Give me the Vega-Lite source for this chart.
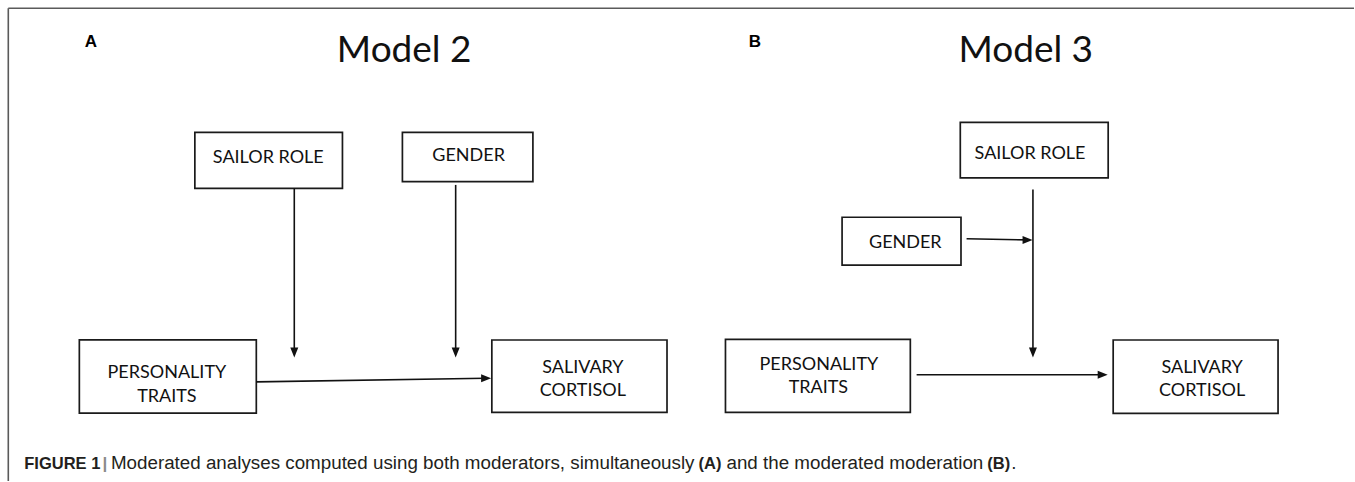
{
  "$schema": "https://vega.github.io/schema/vega-lite/v6.json",
  "width": 1355,
  "height": 482,
  "autosize": {"type": "fit", "contains": "padding"},
  "padding": 0,
  "background": "white",
  "config": {"view": {"stroke": null}},
  "datasets": {
    "frame": [
      {"x": 8.3, "y": 8.3, "x2": 1355, "y2": 8.3},
      {"x": 8.3, "y": 8.3, "x2": 8.3, "y2": 482}
    ],
    "boxes": [
      {"name": "A sailor", "x": 195, "x2": 342.7, "y": 132.7, "y2": 188.7},
      {"name": "A gender", "x": 402.7, "x2": 533.3, "y": 132.7, "y2": 182},
      {"name": "A personality", "x": 79.4, "x2": 256.5, "y": 340.5, "y2": 414},
      {"name": "A salivary", "x": 492.2, "x2": 667.5, "y": 340.7, "y2": 413.3},
      {"name": "B sailor", "x": 961, "x2": 1109, "y": 122.7, "y2": 178.3},
      {"name": "B gender", "x": 842.7, "x2": 961.7, "y": 217.7, "y2": 265.7},
      {"name": "B personality", "x": 726, "x2": 911, "y": 340, "y2": 413.3},
      {"name": "B salivary", "x": 1114, "x2": 1279, "y": 340.7, "y2": 414.3}
    ],
    "lines": [
      {"name": "A sailor", "x": 294.5, "y": 188.7, "x2": 294.5, "y2": 353},
      {"name": "A gender", "x": 456, "y": 185.3, "x2": 456, "y2": 353},
      {"name": "A main", "x": 256.5, "y": 382.7, "x2": 486, "y2": 379.1},
      {"name": "B vertical", "x": 1033.7, "y": 190, "x2": 1033.7, "y2": 353},
      {"name": "B gender", "x": 967.3, "y": 239.3, "x2": 1028, "y2": 240.4},
      {"name": "B main", "x": 917.3, "y": 375.5, "x2": 1103, "y2": 375.5}
    ],
    "heads": [
      {"dir": "down", "x": 294.5, "y": 353.3},
      {"dir": "down", "x": 456, "y": 353.3},
      {"dir": "down", "x": 1033.7, "y": 353.3},
      {"dir": "right", "x": 486.5, "y": 379.1},
      {"dir": "right", "x": 1028.3, "y": 240.4},
      {"dir": "right", "x": 1103.5, "y": 375.5}
    ],
    "labels": [
      {"kind": "box", "x": 268.5, "y": 163.3, "text": "SAILOR ROLE"},
      {"kind": "box", "x": 469, "y": 161.7, "text": "GENDER"},
      {"kind": "box", "x": 167, "y": 379, "text": "PERSONALITY"},
      {"kind": "box", "x": 167, "y": 403.3, "text": "TRAITS"},
      {"kind": "box", "x": 583.3, "y": 373.3, "text": "SALIVARY"},
      {"kind": "box", "x": 583.3, "y": 396.7, "text": "CORTISOL"},
      {"kind": "box", "x": 1030.8, "y": 159, "text": "SAILOR ROLE"},
      {"kind": "box", "x": 906, "y": 248.3, "text": "GENDER"},
      {"kind": "box", "x": 819.5, "y": 370.7, "text": "PERSONALITY"},
      {"kind": "box", "x": 819, "y": 394, "text": "TRAITS"},
      {"kind": "box", "x": 1203, "y": 373.3, "text": "SALIVARY"},
      {"kind": "box", "x": 1203, "y": 397.3, "text": "CORTISOL"},
      {"kind": "title", "x": 404.5, "y": 61.7, "text": "Model 2"},
      {"kind": "title", "x": 1026.5, "y": 61.7, "text": "Model 3"},
      {"kind": "letter", "x": 91, "y": 47, "text": "A"},
      {"kind": "letter", "x": 755.5, "y": 47, "text": "B"}
    ],
    "caption": [
      {"kind": "bold", "x": 24.3, "y": 469.5, "text": "FIGURE 1"},
      {"kind": "bar", "x": 102.5, "y": 469.5, "text": "|"},
      {"kind": "regular", "x": 111, "y": 469.5, "text": "Moderated analyses computed using both moderators, simultaneously"},
      {"kind": "bold", "x": 699, "y": 469.5, "text": "(A)"},
      {"kind": "regular", "x": 727, "y": 469.5, "text": "and the moderated moderation"},
      {"kind": "bold", "x": 988, "y": 469.5, "text": "(B)"},
      {"kind": "regular", "x": 1012, "y": 469.5, "text": "."}
    ]
  },
  "encoding": {
    "x": {"field": "x", "type": "quantitative", "scale": {"domain": [0, 1355], "nice": false, "zero": false}, "axis": null},
    "y": {"field": "y", "type": "quantitative", "scale": {"domain": [0, 482], "nice": false, "zero": false, "reverse": true}, "axis": null}
  },
  "layer": [
    {
      "data": {"name": "frame"},
      "mark": {"type": "rule", "stroke": "#5a5a5a", "strokeWidth": 1.6},
      "encoding": {"x2": {"field": "x2"}, "y2": {"field": "y2"}}
    },
    {
      "data": {"name": "boxes"},
      "mark": {"type": "rect", "fill": "white", "stroke": "#1a1a1a", "strokeWidth": 1.7},
      "encoding": {"x2": {"field": "x2"}, "y2": {"field": "y2"}}
    },
    {
      "data": {"name": "lines"},
      "mark": {"type": "rule", "stroke": "#111111", "strokeWidth": 1.6},
      "encoding": {"x2": {"field": "x2"}, "y2": {"field": "y2"}}
    },
    {
      "data": {"name": "heads"},
      "transform": [{"filter": "datum.dir === 'down'"}],
      "mark": {"type": "point", "filled": true, "shape": "M-0.8,-1L0.8,-1L0,1Z", "size": 100, "color": "#111111", "opacity": 1, "strokeWidth": 0}
    },
    {
      "data": {"name": "heads"},
      "transform": [{"filter": "datum.dir === 'right'"}],
      "mark": {"type": "point", "filled": true, "shape": "M-1,-0.8L1,0L-1,0.8Z", "size": 100, "color": "#111111", "opacity": 1, "strokeWidth": 0}
    },
    {
      "data": {"name": "labels"},
      "transform": [{"filter": "datum.kind === 'box'"}],
      "mark": {"type": "text", "font": "Lato", "fontSize": 18, "align": "center", "baseline": "alphabetic", "color": "#111111"},
      "encoding": {"text": {"field": "text"}}
    },
    {
      "data": {"name": "labels"},
      "transform": [{"filter": "datum.kind === 'title'"}],
      "mark": {"type": "text", "font": "Lato", "fontSize": 37, "align": "center", "baseline": "alphabetic", "color": "#111111"},
      "encoding": {"text": {"field": "text"}}
    },
    {
      "data": {"name": "labels"},
      "transform": [{"filter": "datum.kind === 'letter'"}],
      "mark": {"type": "text", "font": "Liberation Sans", "fontWeight": "bold", "fontSize": 17, "align": "center", "baseline": "alphabetic", "color": "#000000"},
      "encoding": {"text": {"field": "text"}}
    },
    {
      "data": {"name": "caption"},
      "transform": [{"filter": "datum.kind === 'bold'"}],
      "mark": {"type": "text", "font": "Liberation Sans", "fontWeight": "bold", "fontSize": 16.5, "align": "left", "baseline": "alphabetic", "color": "#231f20"},
      "encoding": {"text": {"field": "text"}}
    },
    {
      "data": {"name": "caption"},
      "transform": [{"filter": "datum.kind === 'bar'"}],
      "mark": {"type": "text", "font": "Liberation Sans", "fontWeight": "bold", "fontSize": 17, "align": "left", "baseline": "alphabetic", "color": "#8a8a8a"},
      "encoding": {"text": {"field": "text"}}
    },
    {
      "data": {"name": "caption"},
      "transform": [{"filter": "datum.kind === 'regular'"}],
      "mark": {"type": "text", "font": "Liberation Sans", "fontSize": 18.8, "align": "left", "baseline": "alphabetic", "color": "#231f20"},
      "encoding": {"text": {"field": "text"}}
    }
  ]
}
